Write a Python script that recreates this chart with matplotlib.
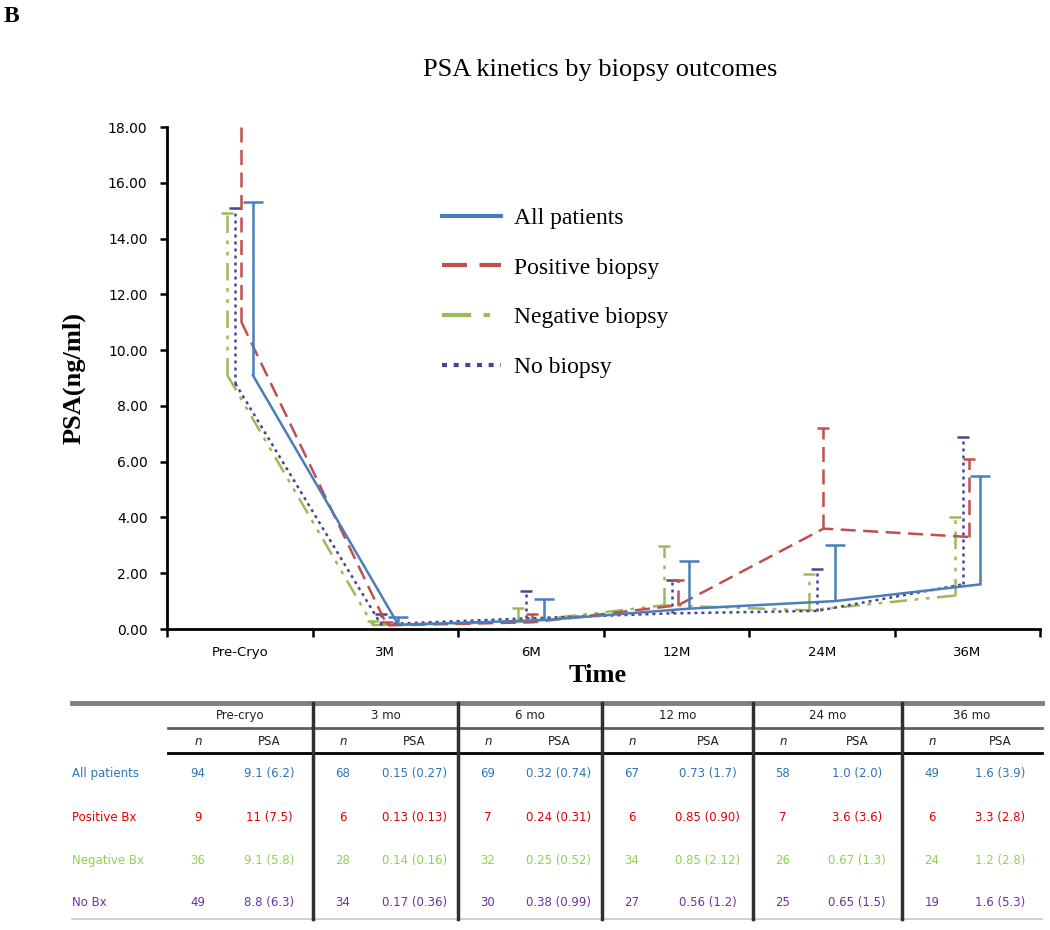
import matplotlib
matplotlib.use("Agg")
import matplotlib.pyplot as plt
from matplotlib.lines import Line2D
import numpy as np

# ---------------- data ----------------
timepoints = ["Pre-Cryo", "3M", "6M", "12M", "24M", "36M"]
table_headers = ["Pre-cryo", "3 mo", "6 mo", "12 mo", "24 mo", "36 mo"]
series_names = ["All patients", "Positive biopsy", "Negative biopsy", "No biopsy"]
row_labels = ["All patients", "Positive Bx", "Negative Bx", "No Bx"]

all_n = [94, 68, 69, 67, 58, 49]
all_mean = ["9.1", "0.15", "0.32", "0.73", "1.0", "1.6"]
all_sd = ["6.2", "0.27", "0.74", "1.7", "2.0", "3.9"]

pos_n = [9, 6, 7, 6, 7, 6]
pos_mean = ["11", "0.13", "0.24", "0.85", "3.6", "3.3"]
pos_sd = ["7.5", "0.13", "0.31", "0.90", "3.6", "2.8"]

neg_n = [36, 28, 32, 34, 26, 24]
neg_mean = ["9.1", "0.14", "0.25", "0.85", "0.67", "1.2"]
neg_sd = ["5.8", "0.16", "0.52", "2.12", "1.3", "2.8"]

nob_n = [49, 34, 30, 27, 25, 19]
nob_mean = ["8.8", "0.17", "0.38", "0.56", "0.65", "1.6"]
nob_sd = ["6.3", "0.36", "0.99", "1.2", "1.5", "5.3"]

yticks = [0, 2, 4, 6, 8, 10, 12, 14, 16, 18]

# ---------------- styles ----------------
line_colors = ["#4A7EBB", "#C0504D", "#9BBB59", "#4B4391"]
table_colors = ["#2E75B6", "#E00000", "#92D050", "#7030A0"]
offsets = [0.09, 0.012, -0.085, -0.03]
styles = ["-", (0, (6, 3)), (0, (7, 3, 1.5, 3, 1.5, 3)), (0, (1.2, 1.6))]
capsizes = [7, 4, 4, 4]
order = [2, 3, 1, 0]  # drawing order

W, H = 1050, 930
fig = plt.figure(figsize=(W / 100, H / 100), dpi=100)

def fx(px):
    return px / W

def fy(py):
    return 1 - py / H

ax = fig.add_axes([fx(167), fy(629), fx(1040) - fx(167), fy(127) - fy(629)])

groups = [
    (all_mean, all_sd, all_n),
    (pos_mean, pos_sd, pos_n),
    (neg_mean, neg_sd, neg_n),
    (nob_mean, nob_sd, nob_n),
]

x = np.arange(len(timepoints))
for i in order:
    m = np.array([float(v) for v in groups[i][0]])
    s = np.array([float(v) for v in groups[i][1]])
    xs = x + offsets[i]
    ax.plot(xs, m, color=line_colors[i], linestyle=styles[i], lw=1.8, zorder=3)
    eb = ax.errorbar(xs, m, yerr=[np.zeros_like(s), s], fmt="none",
                     ecolor=line_colors[i], elinewidth=1.8,
                     capsize=capsizes[i], capthick=1.8, zorder=3)
    for lc in eb[2]:
        lc.set_linestyle(styles[i])
    if len(eb[1]) == 2:
        eb[1][0].set_visible(False)  # only upper caps

ax.set_xlim(-0.5, len(timepoints) - 0.5)
ax.set_ylim(0, 18)
ax.set_yticks(yticks)
ax.set_yticklabels([f"{v:.2f}" for v in yticks], fontsize=10)
ax.set_xticks(np.arange(len(timepoints) + 1) - 0.5)
ax.set_xticklabels([])
ax.set_xticks(x, minor=True)
ax.set_xticklabels(timepoints, minor=True, fontsize=9.5)
ax.tick_params(axis="x", which="minor", length=0, pad=12)
ax.tick_params(axis="x", which="major", length=6, width=1.8, direction="out")
ax.tick_params(axis="y", length=5, width=1.8, direction="out", pad=9)
for sp in ["top", "right"]:
    ax.spines[sp].set_visible(False)
for sp in ["left", "bottom"]:
    ax.spines[sp].set_linewidth(2)

ax.set_ylabel("PSA(ng/ml)", fontsize=19, fontweight="bold",
              family="Liberation Serif", labelpad=16)
fig.text(fx(598), fy(675), "Time", fontsize=19, fontweight="bold",
         family="Liberation Serif", ha="center", va="center")
fig.text(fx(600), fy(70), "PSA kinetics by biopsy outcomes", fontsize=19,
         family="Liberation Serif", ha="center", va="center")
fig.text(fx(4), fy(17), "B", fontsize=17, fontweight="bold",
         family="Liberation Serif", ha="left", va="center")

# legend
handles = [Line2D([], [], color=line_colors[i], linestyle=styles[i], lw=3)
           for i in range(4)]
leg = fig.legend(handles=handles, labels=series_names, loc="upper left",
                 bbox_to_anchor=(fx(421), fy(186)), frameon=False,
                 prop={"family": "Liberation Serif", "size": 17},
                 handlelength=2.5, labelspacing=1.2, handletextpad=0.55)

# ---------------- table ----------------
seps = [168, 313, 458, 602, 753, 902, 1042]
row_y = [773, 817, 860, 902]

def hline(x0, x1, y, color, lw):
    fig.add_artist(Line2D([fx(x0), fx(x1)], [fy(y), fy(y)], color=color,
                          lw=lw, transform=fig.transFigure))

def vline(xp, y0, y1, color, lw):
    fig.add_artist(Line2D([fx(xp), fx(xp)], [fy(y0), fy(y1)], color=color,
                          lw=lw, transform=fig.transFigure))

hline(72, 1042, 703, "#7f7f7f", 3.5)
hline(168, 1042, 728, "#5f5f5f", 2)
hline(168, 1042, 753, "#000000", 2)
hline(72, 1042, 919, "#c8c8c8", 1.2)
for sx in seps[1:-1]:
    vline(sx, 703, 919, "#303030", 2.5)

tfs = 8.5
for k, hdr in enumerate(table_headers):
    left, right = seps[k], seps[k + 1]
    wdt = right - left
    fig.text(fx((left + right) / 2), fy(715), hdr, fontsize=tfs,
             ha="center", va="center", color="#202020")
    n_x = left + 30
    p_x = left + 0.7 * wdt
    fig.text(fx(n_x), fy(741), "n", fontsize=tfs, ha="center", va="center",
             color="#202020", style="italic")
    fig.text(fx(p_x), fy(741), "PSA", fontsize=tfs, ha="center", va="center",
             color="#202020")
    for r in range(4):
        mean_s, sd_s, n_s = groups[r]
        fig.text(fx(n_x), fy(row_y[r]), str(n_s[k]), fontsize=tfs,
                 ha="center", va="center", color=table_colors[r])
        fig.text(fx(p_x), fy(row_y[r]), f"{mean_s[k]} ({sd_s[k]})",
                 fontsize=tfs, ha="center", va="center", color=table_colors[r])

for r in range(4):
    fig.text(fx(72), fy(row_y[r]), row_labels[r], fontsize=tfs, ha="left",
             va="center", color=table_colors[r])

fig.savefig("out.png", dpi=100)
